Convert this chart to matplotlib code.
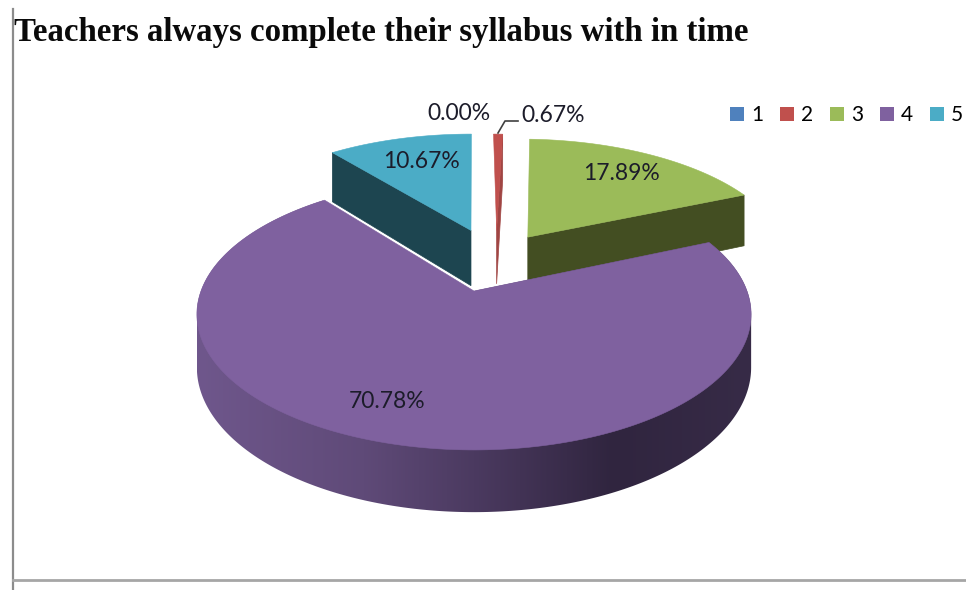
import numpy as np
import matplotlib
matplotlib.use("Agg")
import matplotlib.pyplot as plt
from matplotlib.patches import Patch, Polygon
from matplotlib.colors import LinearSegmentedColormap

title = "Teachers always complete their syllabus with in time"
categories = ["1", "2", "3", "4", "5"]
values = [0.00, 0.67, 17.89, 70.78, 10.67]

colors = ["#4f81bd", "#c0504d", "#9bbb59", "#7f619f", "#4bacc6"]
side_colors = ["#2a4a70", "#a04543", "#434e22", "#3a2c4c", "#1d4550"]
# exploded offset of each slice in the plane of the pie, and its depth
offsets = [(0.0, 0.0), (0.09, 0.50), (0.212, 0.44), (0.0, 0.0), (-0.012, 0.50)]
depths = [52, 58, 58, 51.5, 60]
label_pos = [(459, 114), (553, 115), (621, 174), (387, 401), (421, 162)]

CX, CY, A, B, K = 474, 291, 273, 131.6, 0.172


def project(u, v, depth=0.0):
    w = 1 + K * np.asarray(v)
    return CX + A * np.asarray(u) / w, CY - B * np.asarray(v) / w + depth / w


def rim(a0, a1, off, n=240):
    t = np.radians(np.linspace(a0, a1, n))
    return off[0] + np.sin(t), off[1] + np.cos(t)


fig = plt.figure(figsize=(9.66, 5.90), dpi=100)
ax = fig.add_axes([0, 0, 1, 1])
ax.axis("off")

ax.plot([13, 13], [9, 590], color="#8c8c8c", lw=1.6, zorder=1)
ax.plot([13, 966], [580, 580], color="#a6a6a6", lw=2.0, zorder=1)

edges = np.concatenate([[0], np.cumsum(values)]) / np.sum(values) * 360
wall_cmap = LinearSegmentedColormap.from_list(
    "wall",
    [(0.0, "#6f578c"), (0.3, "#5f4a78"), (0.5, "#4b3a60"),
     (0.75, "#30253f"), (1.0, "#372b47")],
)

for i in [4, 2, 1, 3]:
    a0, a1 = edges[i], edges[i + 1]
    off = offsets[i]
    d = depths[i]
    u, v = rim(a0, a1, off)
    z = 3 if i == 3 else 2
    if i == 3:
        # silhouette of the wall: front of the lower rim, joined at the tangents
        # to the upper rim, so that only the gap of the exploded slices stays open
        tan_r, tan_l = 100.0, 260.0
        ub, vb = rim(tan_r, tan_l, off)
        xb, yb = project(ub, vb, d)
        ur, vr = rim(a0, tan_r, off, 60)
        ul, vl = rim(tan_l, a1, off, 60)
        xr, yr = project(ur, vr)
        xl, yl = project(ul, vl)
        xc, yc = project(off[0], off[1])
        outline = np.c_[np.r_[xc, xr, xb, xl], np.r_[yc, yr, yb, yl]]
        wall = Polygon(outline, closed=True, facecolor="none", edgecolor="none",
                       transform=ax.transData, zorder=z)
        ax.add_patch(wall)
        im = ax.imshow(np.linspace(0, 1, 256)[None, :], cmap=wall_cmap, aspect="auto",
                       extent=(outline[:, 0].min(), outline[:, 0].max(), 590, 0), zorder=z)
        im.set_clip_path(wall)
    else:
        # radial face seen from the front (trailing for 5, leading for 2 and 3)
        ang = a0 if i == 4 else a1
        ue, ve = rim(ang, ang, off, 1)
        px = np.array([off[0], ue[0], ue[0], off[0]])
        py = np.array([off[1], ve[0], ve[0], off[1]])
        dd = np.array([0, 0, d, d])
        xs, ys = project(px, py, dd)
        ax.fill(xs, ys, color=side_colors[i], lw=0.5, zorder=z)
    xs, ys = project(np.r_[off[0], u], np.r_[off[1], v])
    if i == 3:
        ax.plot(*project(np.array([off[0], u[-1]]), np.array([off[1], v[-1]])),
                color="white", lw=2, zorder=z, solid_capstyle="round")
    ax.fill(xs, ys, color=colors[i], lw=0.4, zorder=z + 0.5)

ax.set_xlim(0, 966)
ax.set_ylim(590, 0)

for val, (lx, ly) in zip(values, label_pos):
    ax.text(lx, ly, f"{val:.2f}%", family="Lato", fontsize=16.5, color="#1c1c2a",
            ha="center", va="center", zorder=6)

ax.plot([498, 505, 518], [133, 121, 121], color="#404040", lw=1.2, zorder=5)

ax.text(14, 32, title, family="Liberation Serif", fontweight="bold", fontsize=23.7,
        color="#0a0a0a", ha="left", va="center", zorder=6)

handles = [Patch(facecolor=c, edgecolor="none", label=n) for c, n in zip(colors, categories)]
ax.legend(handles=handles, ncol=5, loc="center left", bbox_to_anchor=(730 / 966, 1 - 115 / 590),
          bbox_transform=ax.transAxes, frameon=False,
          prop={"family": "Lato", "size": 15},
          handlelength=0.67, handleheight=0.67, handletextpad=0.33,
          columnspacing=0.82, borderpad=0, borderaxespad=0)

fig.savefig("out.png", dpi=100, facecolor="white")
